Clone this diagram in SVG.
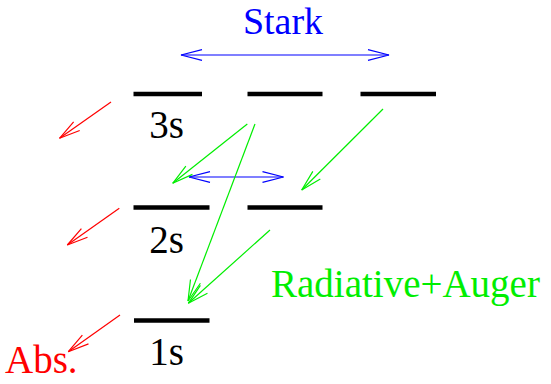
<svg xmlns="http://www.w3.org/2000/svg" width="551" height="384" viewBox="0 0 551 384">
<style>
.t{font-family:'Liberation Serif','DejaVu Serif',serif;font-size:39px}
.lvl{stroke:#000;stroke-width:4.5;fill:none}
.r{stroke:#ff0000;stroke-width:1.2;fill:none;marker-end:url(#mr)}
.g{stroke:#00ee00;stroke-width:1.2;fill:none;marker-end:url(#mg)}
.b{stroke:#0000ff;stroke-width:1.2;fill:none;marker-end:url(#mb);marker-start:url(#mb)}
</style>
<defs>
<marker id="mr" markerUnits="userSpaceOnUse" orient="auto-start-reverse" markerWidth="30" markerHeight="16" refX="0" refY="0" viewBox="-22 -8 24 16" overflow="visible"><path d="M-21 -5.3L0 0L-21 5.3" fill="none" stroke="#ff0000" stroke-width="1.2"/></marker>
<marker id="mg" markerUnits="userSpaceOnUse" orient="auto-start-reverse" markerWidth="30" markerHeight="16" refX="0" refY="0" viewBox="-22 -8 24 16" overflow="visible"><path d="M-21 -5.3L0 0L-21 5.3" fill="none" stroke="#00ee00" stroke-width="1.2"/></marker>
<marker id="mb" markerUnits="userSpaceOnUse" orient="auto-start-reverse" markerWidth="30" markerHeight="16" refX="0" refY="0" viewBox="-22 -8 24 16" overflow="visible"><path d="M-21 -5.3L0 0L-21 5.3" fill="none" stroke="#0000ff" stroke-width="1.2"/></marker>
</defs>
<rect width="551" height="384" fill="#fff"/>
<g id="level-3s"><line class="lvl" x1="133.5" y1="94" x2="202" y2="94"/><text class="t" x="166.5" y="138" text-anchor="middle">3s</text></g>
<g id="level-3p"><line class="lvl" x1="247.5" y1="94" x2="322.5" y2="94"/></g>
<g id="level-3d"><line class="lvl" x1="360.5" y1="94" x2="436" y2="94"/></g>
<g id="level-2s"><line class="lvl" x1="133.5" y1="207.5" x2="209.5" y2="207.5"/><text class="t" x="166.5" y="253" text-anchor="middle">2s</text></g>
<g id="level-2p"><line class="lvl" x1="247.5" y1="207.5" x2="322.5" y2="207.5"/></g>
<g id="level-1s"><line class="lvl" x1="134" y1="320.5" x2="209.5" y2="320.5"/><text class="t" x="166.5" y="365" text-anchor="middle">1s</text></g>
<g id="label-stark"><text class="t" x="283" y="34" text-anchor="middle" fill="#0000ff" style="font-size:38px">Stark</text></g>
<g id="label-radiative"><text class="t" x="271" y="297" fill="#00ee00">Radiative+Auger</text></g>
<g id="label-abs"><text class="t" x="5" y="373" fill="#ff0000">Abs.</text></g>
<g id="connectors">
<line class="b" x1="181" y1="55" x2="389" y2="55"/>
<line class="b" x1="189" y1="177" x2="283.5" y2="177"/>
<line class="r" x1="111" y1="102" x2="59.5" y2="138.3"/>
<line class="r" x1="119.3" y1="208.3" x2="67.3" y2="245"/>
<line class="r" x1="120" y1="315" x2="68.3" y2="351.7"/>
<line class="g" x1="247.3" y1="124" x2="172.7" y2="183.3"/>
<line class="g" x1="383" y1="109" x2="301.7" y2="190"/>
<line class="g" x1="255" y1="124" x2="188" y2="301"/>
<line class="g" x1="270" y1="230" x2="188.3" y2="303.3"/>
</g>
</svg>
